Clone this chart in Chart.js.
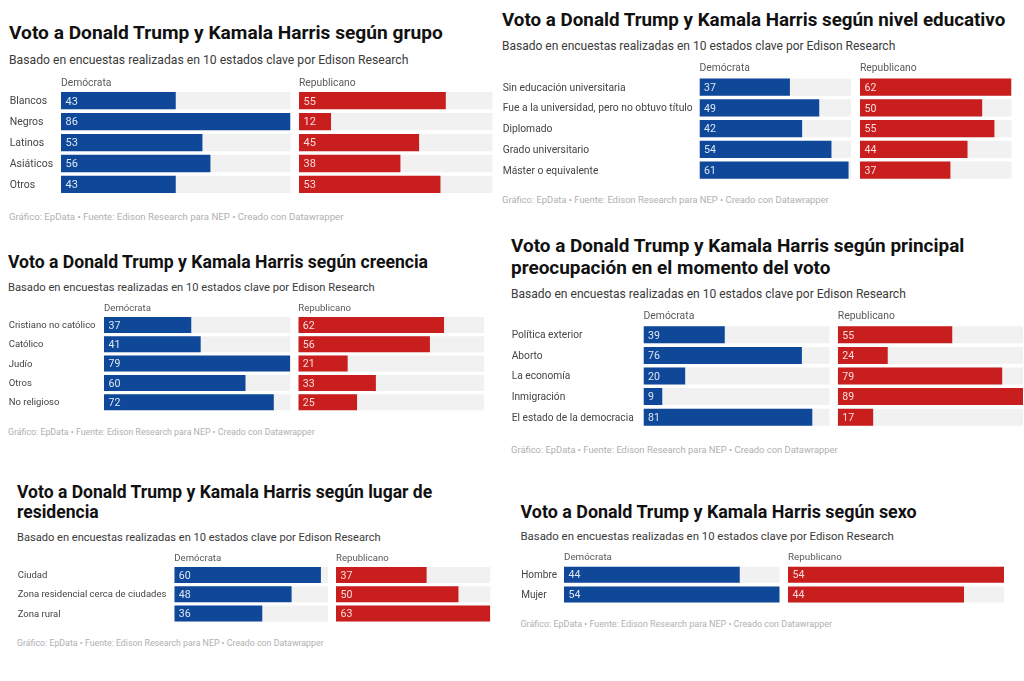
<!DOCTYPE html>
<html lang="es">
<head>
<meta charset="utf-8">
<script src="https://cdn.jsdelivr.net/npm/chart.js@4"></script>
<style>
html,body{margin:0;padding:0;background:#fff;}
body{position:relative;width:1024px;height:681px;overflow:hidden;font-family:Roboto,sans-serif;filter:blur(0.35px);}
canvas{position:absolute;}
.t{position:absolute;white-space:nowrap;line-height:1;transform:translateY(-50%);}
.title{font-weight:700;color:#111;}
.sub{color:#3a3a3a;}
.foot{color:#b0b0b0;}
</style>
</head>
<body>
<script>
// ---- data ----
const seriesNames = ["Demócrata", "Republicano"];
const subtitleText = "Basado en encuestas realizadas en 10 estados clave por Edison Research";
const footerText = "Gráfico: EpData • Fuente: Edison Research para NEP • Creado con Datawrapper";

const groupCats = ["Blancos", "Negros", "Latinos", "Asiáticos", "Otros"];
const groupDem = [43, 86, 53, 56, 43];
const groupRep = [55, 12, 45, 38, 53];

const eduCats = ["Sin educación universitaria", "Fue a la universidad, pero no obtuvo título", "Diplomado", "Grado universitario", "Máster o equivalente"];
const eduDem = [37, 49, 42, 54, 61];
const eduRep = [62, 50, 55, 44, 37];

const beliefCats = ["Cristiano no católico", "Católico", "Judío", "Otros", "No religioso"];
const beliefDem = [37, 41, 79, 60, 72];
const beliefRep = [62, 56, 21, 33, 25];

const issueCats = ["Política exterior", "Aborto", "La economía", "Inmigración", "El estado de la democracia"];
const issueDem = [39, 76, 20, 9, 81];
const issueRep = [55, 24, 79, 89, 17];

const placeCats = ["Ciudad", "Zona residencial cerca de ciudades", "Zona rural"];
const placeDem = [60, 48, 36];
const placeRep = [37, 50, 63];

const sexCats = ["Hombre", "Mujer"];
const sexDem = [44, 54];
const sexRep = [54, 44];

// ---- layout and style ----
const BLUE = "#0f4898", RED = "#c81e1e", TRACK = "#f1f1f2", LABEL = "#444", HEAD = "#5a5a5a";
const panels = [
 {title:["Voto a Donald Trump y Kamala Harris según grupo"], cats:groupCats, dem:groupDem, rep:groupRep,
  x:9, ty:[33], tf:19.15, sy:59.5, sf:12.2, hy:83, hf:10.3, lf:10.5, vf:11, fy:216.5, ff:9.6,
  top:92, pitch:20.95, bar:17.3, lx0:61, lx1:290.5, rx0:299, rx1:492.5, lmax:86, rmax:72.5},
 {title:["Voto a Donald Trump y Kamala Harris según nivel educativo"], cats:eduCats, dem:eduDem, rep:eduRep,
  x:502, ty:[19.5], tf:18.8, sy:46, sf:12, hy:68, hf:10.3, lf:10.3, vf:10.6, fy:200, ff:9.4,
  top:78.5, pitch:20.75, bar:17.3, lx0:699.5, lx1:851, rx0:860, rx1:1011.5, lmax:62, rmax:62},
 {title:["Voto a Donald Trump y Kamala Harris según creencia"], cats:beliefCats, dem:beliefDem, rep:beliefRep,
  x:8, ty:[263], tf:17.6, sy:287.5, sf:11.2, hy:308.5, hf:9.6, lf:9.5, vf:10.6, fy:431.5, ff:8.8,
  top:317, pitch:19.3, bar:16, lx0:104, lx1:290.3, rx0:298.3, rx1:484, lmax:79, rmax:79},
 {title:["Voto a Donald Trump y Kamala Harris según principal", "preocupación en el momento del voto"], cats:issueCats, dem:issueDem, rep:issueRep,
  x:511, ty:[246, 267.5], tf:18.95, sy:293.5, sf:12.05, hy:316.5, hf:10.4, lf:10.2, vf:10.6, fy:449.5, ff:9.4,
  top:326.3, pitch:20.6, bar:17, lx0:643.5, lx1:829.4, rx0:837.8, rx1:1023, lmax:89.2, rmax:89},
 {title:["Voto a Donald Trump y Kamala Harris según lugar de", "residencia"], cats:placeCats, dem:placeDem, rep:placeRep,
  x:17, ty:[493, 513], tf:17.55, sy:537.5, sf:11.1, hy:558.3, hf:9.6, lf:9.5, vf:10.6, fy:642.5, ff:8.8,
  top:567, pitch:19.3, bar:16, lx0:174.3, lx1:328, rx0:336, rx1:490.3, lmax:62.9, rmax:63},
 {title:["Voto a Donald Trump y Kamala Harris según sexo"], cats:sexCats, dem:sexDem, rep:sexRep,
  x:520.5, ty:[511.5], tf:17.9, sy:536.5, sf:11.4, hy:557.7, hf:9.8, lf:10, vf:10.6, fy:624, ff:8.95,
  top:566.7, pitch:19.75, bar:16, lx0:564, lx1:779.7, rx0:788, rx1:1004, lmax:54, rmax:54}
];

function addText(cls, text, x, y, size) {
  const d = document.createElement("div");
  d.className = "t " + cls;
  d.textContent = text;
  d.style.left = x + "px";
  d.style.top = y + "px";
  d.style.fontSize = size + "px";
  document.body.appendChild(d);
}

// grey track behind each bar and the value inside it
const rowPlugin = {
  id: "rows",
  beforeDatasetsDraw(chart) {
    const ctx = chart.ctx, a = chart.chartArea;
    ctx.save();
    ctx.fillStyle = TRACK;
    chart.getDatasetMeta(0).data.forEach(b => {
      ctx.fillRect(a.left, b.y - b.height / 2, a.right - a.left, b.height);
    });
    ctx.restore();
  },
  afterDatasetsDraw(chart, args, opts) {
    const ctx = chart.ctx, ds = chart.data.datasets[0];
    ctx.save();
    ctx.fillStyle = opts.color;
    ctx.font = opts.size + "px Roboto";
    ctx.textAlign = "left";
    ctx.textBaseline = "middle";
    chart.getDatasetMeta(0).data.forEach((b, i) => {
      ctx.fillText(String(ds.data[i]), b.base + 4.5, b.y + 1.1);
    });
    ctx.restore();
  }
};

function addChart(p, name, values, color, valueColor, x0, x1, max, withLabels) {
  const HEADER = 20;
  const n = p.cats.length;
  const areaTop = p.top - (p.pitch - p.bar) / 2;
  const areaBottom = areaTop + n * p.pitch;
  const axisTop = areaTop - HEADER;
  const outerLeft = withLabels ? p.x + 0.7 : x0;
  const cl = Math.floor(outerLeft), ct = Math.floor(axisTop);
  const cw = Math.ceil(x1) - cl + 1, ch = Math.ceil(areaBottom) - ct + 1;
  const c = document.createElement("canvas");
  c.width = cw; c.height = ch;
  c.style.left = cl + "px"; c.style.top = ct + "px";
  c.style.width = cw + "px"; c.style.height = ch + "px";
  document.body.appendChild(c);
  const lh = p.hf * 1.2;
  new Chart(c, {
    type: "bar",
    data: { labels: p.cats, datasets: [{ label: name, data: values, backgroundColor: color,
      barPercentage: p.bar / p.pitch, categoryPercentage: 1, borderWidth: 0 }] },
    plugins: [rowPlugin],
    options: {
      indexAxis: "y", responsive: false, animation: false, devicePixelRatio: 1,
      layout: { padding: { left: outerLeft - cl, right: cw - (x1 - cl), top: axisTop - ct, bottom: ch - (areaBottom - ct) } },
      plugins: { legend: { display: false }, tooltip: { enabled: false }, rows: { size: p.vf, color: valueColor } },
      scales: {
        x: { position: "top", min: 0, max: max, grid: { display: false }, border: { display: false },
             ticks: { display: false },
             title: { display: true, text: name, align: "start", color: HEAD,
                      font: { family: "Roboto", size: p.hf }, padding: { top: p.hy - axisTop - lh / 2, bottom: 0 } },
             afterFit(s) { s.height = HEADER; s.paddingLeft = 0; s.paddingRight = 0; } },
        y: { display: withLabels, grid: { display: false }, border: { display: false },
             ticks: { color: LABEL, crossAlign: "far", autoSkip: false, labelOffset: 0.8, font: { family: "Roboto", size: p.lf } },
             afterFit(s) { s.width = x0 - outerLeft; s.paddingTop = 0; s.paddingBottom = 0; } }
      }
    }
  });
}

panels.forEach(p => {
  p.title.forEach((line, i) => addText("title", line, p.x, p.ty[i], p.tf));
  addText("sub", subtitleText, p.x, p.sy, p.sf);
  addText("foot", footerText, p.x, p.fy, p.ff);
  addChart(p, seriesNames[0], p.dem, BLUE, "#dfe7f4", p.lx0, p.lx1, p.lmax, true);
  addChart(p, seriesNames[1], p.rep, RED, "#f8dcdc", p.rx0, p.rx1, p.rmax, false);
});
</script>
</body>
</html>
